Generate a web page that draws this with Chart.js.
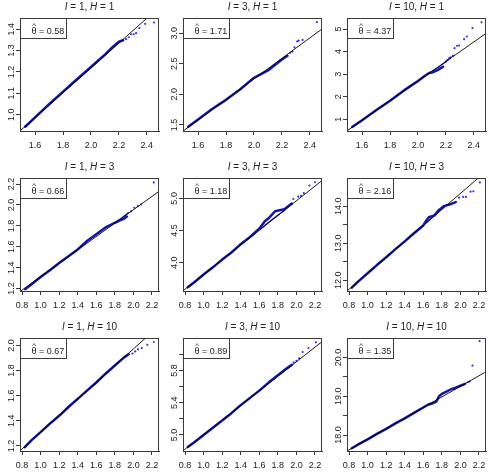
<!DOCTYPE html>
<html><head><meta charset="utf-8">
<script src="https://cdn.jsdelivr.net/npm/chart.js@4.4.1/dist/chart.umd.min.js"></script>
<style>
html,body{margin:0;padding:0;background:#fff;}
#wrap{position:relative;width:489px;height:474px;overflow:hidden;background:#fff;}
canvas{position:absolute;}
</style></head><body><div id="wrap"></div>
<script>
// ---------- data ----------
const iValues = [1, 3, 10];
const hValues = [1, 3, 10];
const thetaHat = [0.58, 1.71, 4.37, 0.66, 1.18, 2.16, 0.67, 0.89, 1.35];

const xTicksH1 = [1.6, 1.8, 2.0, 2.2, 2.4];
const xTicksH3 = [0.8, 1.0, 1.2, 1.4, 1.6, 1.8, 2.0, 2.2];
const xLimH1 = [1.492, 2.487];
const xLimH3 = [0.778, 2.276];

const yTicks_I1_H1 = [1.0, 1.1, 1.2, 1.3, 1.4];
const yTicks_I3_H1 = [1.5, 2.0, 2.5, 3.0];
const yTicks_I10_H1 = [1, 2, 3, 4, 5];
const yTicks_I1_H3 = [1.2, 1.4, 1.6, 1.8, 2.0, 2.2];
const yTicks_I3_H3 = [4.0, 4.5, 5.0];
const yTicks_I10_H3 = [12.0, 12.5, 13.0, 13.5, 14.0];
const yTicks_I1_H10 = [1.2, 1.4, 1.6, 1.8, 2.0];
const yTicks_I3_H10 = [5.0, 5.2, 5.4, 5.6, 5.8, 6.0];
const yTicks_I10_H10 = [18.0, 18.5, 19.0, 19.5, 20.0];

const yLabels_I1_H1 = ["1.0", "1.1", "1.2", "1.3", "1.4"];
const yLabels_I3_H1 = ["1.5", "2.0", "2.5", "3.0"];
const yLabels_I10_H1 = ["1", "2", "3", "4", "5"];
const yLabels_I1_H3 = ["1.2", "1.4", "1.6", "1.8", "2.0", "2.2"];
const yLabels_I3_H3 = ["4.0", "4.5", "5.0"];
const yLabels_I10_H3 = ["12.0", "", "13.0", "", "14.0"];
const yLabels_I1_H10 = ["1.2", "1.4", "1.6", "1.8", "2.0"];
const yLabels_I3_H10 = ["5.0", "", "5.4", "", "5.8", ""];
const yLabels_I10_H10 = ["18.0", "", "19.0", "", "20.0"];

const yLim_I1_H1 = [0.924, 1.452];
const yLim_I3_H1 = [1.40, 3.249];
const yLim_I10_H1 = [0.48, 5.49];
const yLim_I1_H3 = [1.177, 2.258];
const yLim_I3_H3 = [3.563, 5.316];
const yLim_I10_H3 = [11.71, 14.76];
const yLim_I1_H10 = [1.16, 2.059];
const yLim_I3_H10 = [4.80, 6.204];
const yLim_I10_H10 = [17.59, 20.50];

// reference lines (two end points each)
const ref_I1_H1 = [[1.49, 0.923], [2.49, 1.503]];
const ref_I3_H1 = [[1.493, 1.40], [2.487, 3.07]];
const ref_I10_H1 = [[1.49, 0.48], [2.49, 4.82]];
const ref_I1_H3 = [[0.786, 1.177], [2.275, 2.13]];
const ref_I3_H3 = [[0.775, 3.563], [2.279, 5.28]];
const ref_I10_H3 = [[0.779, 11.71], [2.193, 14.76]];
const ref_I1_H10 = [[0.775, 1.16], [2.131, 2.059]];
const ref_I3_H10 = [[0.775, 4.80], [2.271, 6.154]];
const ref_I10_H10 = [[0.779, 17.59], [2.261, 19.61]];

// dense body of each QQ plot
const qq_I1_H1 = [[1.529,0.944],[1.6,0.988],[1.7,1.049],[1.8,1.108],[1.9,1.166],[2.0,1.223],[2.05,1.252],[2.1,1.281],[2.15,1.313],[2.2,1.341],[2.23,1.348]];
const qq_I3_H1 = [[1.529,1.468],[1.6,1.59],[1.7,1.76],[1.8,1.91],[1.9,2.08],[2.0,2.27],[2.05,2.33],[2.1,2.39],[2.15,2.48],[2.2,2.57],[2.24,2.63]];
const qq_I10_H1 = [[1.529,0.66],[1.6,0.96],[1.7,1.40],[1.8,1.82],[1.9,2.28],[2.0,2.70],[2.05,2.93],[2.08,3.05],[2.1,3.07],[2.14,3.18],[2.18,3.33]];
const qq_I1_H3 = [[0.835,1.195],[0.9,1.24],[1.0,1.31],[1.1,1.375],[1.2,1.445],[1.3,1.51],[1.4,1.575],[1.5,1.655],[1.6,1.72],[1.7,1.785],[1.8,1.83],[1.85,1.85],[1.9,1.87],[1.93,1.89]];
const qq_I3_H3 = [[0.83,3.62],[0.9,3.70],[1.0,3.82],[1.1,3.93],[1.2,4.05],[1.3,4.16],[1.4,4.29],[1.5,4.40],[1.6,4.53],[1.66,4.645],[1.7,4.69],[1.77,4.80],[1.82,4.815],[1.87,4.83],[1.95,4.92]];
const qq_I10_H3 = [[0.83,11.8],[0.9,11.97],[1.0,12.19],[1.1,12.41],[1.2,12.62],[1.3,12.84],[1.4,13.05],[1.5,13.27],[1.6,13.48],[1.63,13.6],[1.66,13.7],[1.72,13.75],[1.77,13.9],[1.82,14.0],[1.9,14.06],[1.95,14.11]];
const qq_I1_H10 = [[0.83,1.19],[0.9,1.245],[1.0,1.31],[1.1,1.378],[1.2,1.44],[1.3,1.51],[1.4,1.575],[1.5,1.64],[1.6,1.705],[1.7,1.775],[1.8,1.84],[1.9,1.905],[1.95,1.93]];
const qq_I3_H10 = [[0.83,4.85],[0.9,4.91],[1.0,5.0],[1.1,5.09],[1.2,5.18],[1.3,5.27],[1.4,5.37],[1.5,5.46],[1.6,5.55],[1.7,5.65],[1.8,5.74],[1.9,5.83],[1.95,5.87]];
const qq_I10_H10 = [[0.83,17.66],[0.9,17.76],[1.0,17.89],[1.1,18.03],[1.2,18.16],[1.3,18.3],[1.4,18.43],[1.5,18.57],[1.6,18.71],[1.65,18.78],[1.7,18.82],[1.74,18.86],[1.77,19.0],[1.8,19.06],[1.85,19.12],[1.9,19.18],[1.95,19.22],[2.0,19.27],[2.05,19.32]];

// secondary thin tracks
const branch_I10_H1 = [[2.08,3.05],[2.15,3.32],[2.2,3.55],[2.24,3.78]];
const branch_I1_H3 = [[1.8,1.83],[1.88,1.88],[1.95,1.93]];
const branch_I3_H3 = [[1.6,4.51],[1.7,4.63],[1.8,4.74],[1.88,4.82]];
const branch_I10_H3 = [[1.6,13.48],[1.7,13.7],[1.8,13.92],[1.86,14.05]];

// sparse upper tail points
const tail_I1_H1 = [[2.251,1.353],[2.27,1.362],[2.287,1.376],[2.306,1.376],[2.323,1.381],[2.347,1.405],[2.388,1.425],[2.451,1.431]];
const tail_I3_H1 = [[2.26,2.68],[2.275,2.70],[2.29,2.77],[2.31,2.865],[2.32,2.88],[2.348,2.89],[2.45,3.18]];
const tail_I10_H1 = [[2.2,3.56],[2.21,3.62],[2.225,3.72],[2.25,3.81],[2.262,4.15],[2.28,4.26],[2.295,4.27],[2.33,4.55],[2.35,4.67],[2.39,5.04],[2.455,5.30]];
const tail_I1_H3 = [[1.976,1.94],[2.01,1.973],[2.047,1.989],[2.083,2.005],[2.22,2.216]];
const tail_I3_H3 = [[1.967,4.99],[2.02,5.026],[2.05,5.04],[2.08,5.08],[2.14,5.2],[2.2,5.25]];
const tail_I10_H3 = [[1.986,14.23],[2.03,14.25],[2.06,14.25],[2.11,14.39],[2.14,14.4],[2.21,14.64]];
const tail_I1_H10 = [[1.99,1.935],[2.02,1.952],[2.05,1.968],[2.09,1.979],[2.15,2.005],[2.22,2.027]];
const tail_I3_H10 = [[1.97,5.9],[2.0,5.92],[2.03,5.95],[2.068,6.03],[2.13,6.08],[2.21,6.15]];
const tail_I10_H10 = [[2.08,19.36],[2.1,19.38],[2.13,19.79],[2.207,20.42]];

// ---------- assembly ----------
const panels = [
  {I:1,H:1, xt:xTicksH1, xl:xLimH1, yt:yTicks_I1_H1, yl:yLabels_I1_H1, ylim:yLim_I1_H1, ref:ref_I1_H1, qq:qq_I1_H1, br:[], tail:tail_I1_H1},
  {I:3,H:1, xt:xTicksH1, xl:xLimH1, yt:yTicks_I3_H1, yl:yLabels_I3_H1, ylim:yLim_I3_H1, ref:ref_I3_H1, qq:qq_I3_H1, br:[], tail:tail_I3_H1},
  {I:10,H:1, xt:xTicksH1, xl:xLimH1, yt:yTicks_I10_H1, yl:yLabels_I10_H1, ylim:yLim_I10_H1, ref:ref_I10_H1, qq:qq_I10_H1, br:branch_I10_H1, tail:tail_I10_H1},
  {I:1,H:3, xt:xTicksH3, xl:xLimH3, yt:yTicks_I1_H3, yl:yLabels_I1_H3, ylim:yLim_I1_H3, ref:ref_I1_H3, qq:qq_I1_H3, br:branch_I1_H3, tail:tail_I1_H3},
  {I:3,H:3, xt:xTicksH3, xl:xLimH3, yt:yTicks_I3_H3, yl:yLabels_I3_H3, ylim:yLim_I3_H3, ref:ref_I3_H3, qq:qq_I3_H3, br:branch_I3_H3, tail:tail_I3_H3},
  {I:10,H:3, xt:xTicksH3, xl:xLimH3, yt:yTicks_I10_H3, yl:yLabels_I10_H3, ylim:yLim_I10_H3, ref:ref_I10_H3, qq:qq_I10_H3, br:branch_I10_H3, tail:tail_I10_H3},
  {I:1,H:10, xt:xTicksH3, xl:xLimH3, yt:yTicks_I1_H10, yl:yLabels_I1_H10, ylim:yLim_I1_H10, ref:ref_I1_H10, qq:qq_I1_H10, br:[], tail:tail_I1_H10},
  {I:3,H:10, xt:xTicksH3, xl:xLimH3, yt:yTicks_I3_H10, yl:yLabels_I3_H10, ylim:yLim_I3_H10, ref:ref_I3_H10, qq:qq_I3_H10, br:[], tail:tail_I3_H10},
  {I:10,H:10, xt:xTicksH3, xl:xLimH3, yt:yTicks_I10_H10, yl:yLabels_I10_H10, ylim:yLim_I10_H10, ref:ref_I10_H10, qq:qq_I10_H10, br:[], tail:tail_I10_H10}
];

const FONT = "'Liberation Sans', Arial, Helvetica, sans-serif";
const AXCOL = '#3a3a3a';
const TXT = '#222';
const colX = [0, 163, 327];
const rowY = [0, 160, 320];
const CW = 163, CH = 160;

const toXY = arr => arr.map(p => ({x: p[0], y: p[1]}));

const decor = {
  id: 'qqDecor',
  afterDatasetsDraw(chart, args, opts) {
    const p = opts.panel;
    const ctx = chart.ctx;
    const a = chart.chartArea;
    const xs = chart.scales.x, ys = chart.scales.y;
    ctx.save();
    // box
    ctx.strokeStyle = AXCOL; ctx.lineWidth = 1;
    ctx.strokeRect(Math.round(a.left) + 0.5, Math.round(a.top) + 0.5, Math.round(a.right - a.left) - 1, Math.round(a.bottom - a.top));
    // x labels
    ctx.fillStyle = TXT;
    ctx.font = '9px ' + FONT;
    ctx.textAlign = 'center'; ctx.textBaseline = 'middle';
    p.xt.forEach(v => {
      ctx.fillText(v.toFixed(1), xs.getPixelForValue(v), a.bottom + 15);
    });
    // y labels rotated
    p.yt.forEach((v, i) => {
      const lab = p.yl[i];
      if (!lab) return;
      ctx.save();
      ctx.translate(a.left - 8, ys.getPixelForValue(v));
      ctx.rotate(-Math.PI / 2);
      ctx.fillText(lab, 0, 0);
      ctx.restore();
    });
    // title with italic I and H
    const parts = [['I', 'italic '], [' = ' + p.I + ', ', ''], ['H', 'italic '], [' = ' + p.H, '']];
    const fs = 10;
    let w = 0;
    parts.forEach(pt => { ctx.font = pt[1] + fs + 'px ' + FONT; w += ctx.measureText(pt[0]).width; });
    let tx = (a.left + a.right) / 2 - w / 2;
    ctx.textAlign = 'left';
    parts.forEach(pt => { ctx.font = pt[1] + fs + 'px ' + FONT; ctx.fillText(pt[0], tx, a.top - 11); tx += ctx.measureText(pt[0]).width; });
    // legend box
    const lx = Math.round(a.left) + 0.5, ly = Math.round(a.top) + 0.5;
    ctx.fillStyle = '#fff';
    ctx.fillRect(lx, ly, 46, 20);
    ctx.strokeRect(lx, ly, 46, 20);
    ctx.fillStyle = TXT;
    ctx.font = '9px ' + FONT;
    ctx.textBaseline = 'alphabetic';
    const th = 'θ';
    const thW = ctx.measureText(th).width;
    ctx.fillText(th, lx + 11, ly + 15);
    ctx.textAlign = 'center';
    ctx.font = '8px ' + FONT;
    ctx.fillText('^', lx + 11 + thW / 2, ly + 9);
    ctx.textAlign = 'left';
    ctx.font = '9px ' + FONT;
    ctx.fillText(' = ' + p.theta.toFixed(2), lx + 11 + thW, ly + 15);
    ctx.restore();
  }
};

panels.forEach((p, k) => {
  p.theta = thetaHat[k];
  const c = document.createElement('canvas');
  c.width = CW; c.height = CH;
  c.style.left = colX[k % 3] + 'px';
  c.style.top = rowY[Math.floor(k / 3)] + 'px';
  c.style.width = CW + 'px'; c.style.height = CH + 'px';
  document.getElementById('wrap').appendChild(c);
  new Chart(c.getContext('2d'), {
    type: 'scatter',
    data: {
      datasets: [
        {type: 'line', data: toXY(p.ref), borderColor: '#000', borderWidth: 0.9, pointRadius: 0, tension: 0},
        {type: 'scatter', data: toXY(p.tail), pointRadius: 1.1, pointBackgroundColor: '#3434f0', pointBorderWidth: 0},
        {type: 'line', data: toXY(p.br), borderColor: '#2a2ad8', borderWidth: 1.3, pointRadius: 0, tension: 0},
        {type: 'line', data: toXY(p.qq), borderColor: '#1414a6', borderWidth: 2.5, pointRadius: 0, tension: 0, borderCapStyle: 'round', borderJoinStyle: 'round'}
      ]
    },
    options: {
      responsive: false, animation: false, devicePixelRatio: 1,
      layout: {padding: {top: 18, right: 4, left: 0, bottom: 0}},
      plugins: {legend: {display: false}, tooltip: {enabled: false}, title: {display: false}, qqDecor: {panel: p}},
      scales: {
        x: {type: 'linear', min: p.xl[0], max: p.xl[1],
            afterBuildTicks: s => { s.ticks = p.xt.map(v => ({value: v})); },
            afterFit: s => { s.height = 29; },
            ticks: {display: false},
            grid: {drawOnChartArea: false, drawTicks: true, tickLength: 4, color: AXCOL, lineWidth: 1},
            border: {display: true, color: AXCOL, width: 1}},
        y: {type: 'linear', min: p.ylim[0], max: p.ylim[1],
            afterBuildTicks: s => { s.ticks = p.yt.map(v => ({value: v})); },
            afterFit: s => { s.width = 20; },
            ticks: {display: false},
            grid: {drawOnChartArea: false, drawTicks: true, tickLength: 4, color: AXCOL, lineWidth: 1},
            border: {display: true, color: AXCOL, width: 1}}
      }
    },
    plugins: [decor]
  });
});
</script></body></html>
